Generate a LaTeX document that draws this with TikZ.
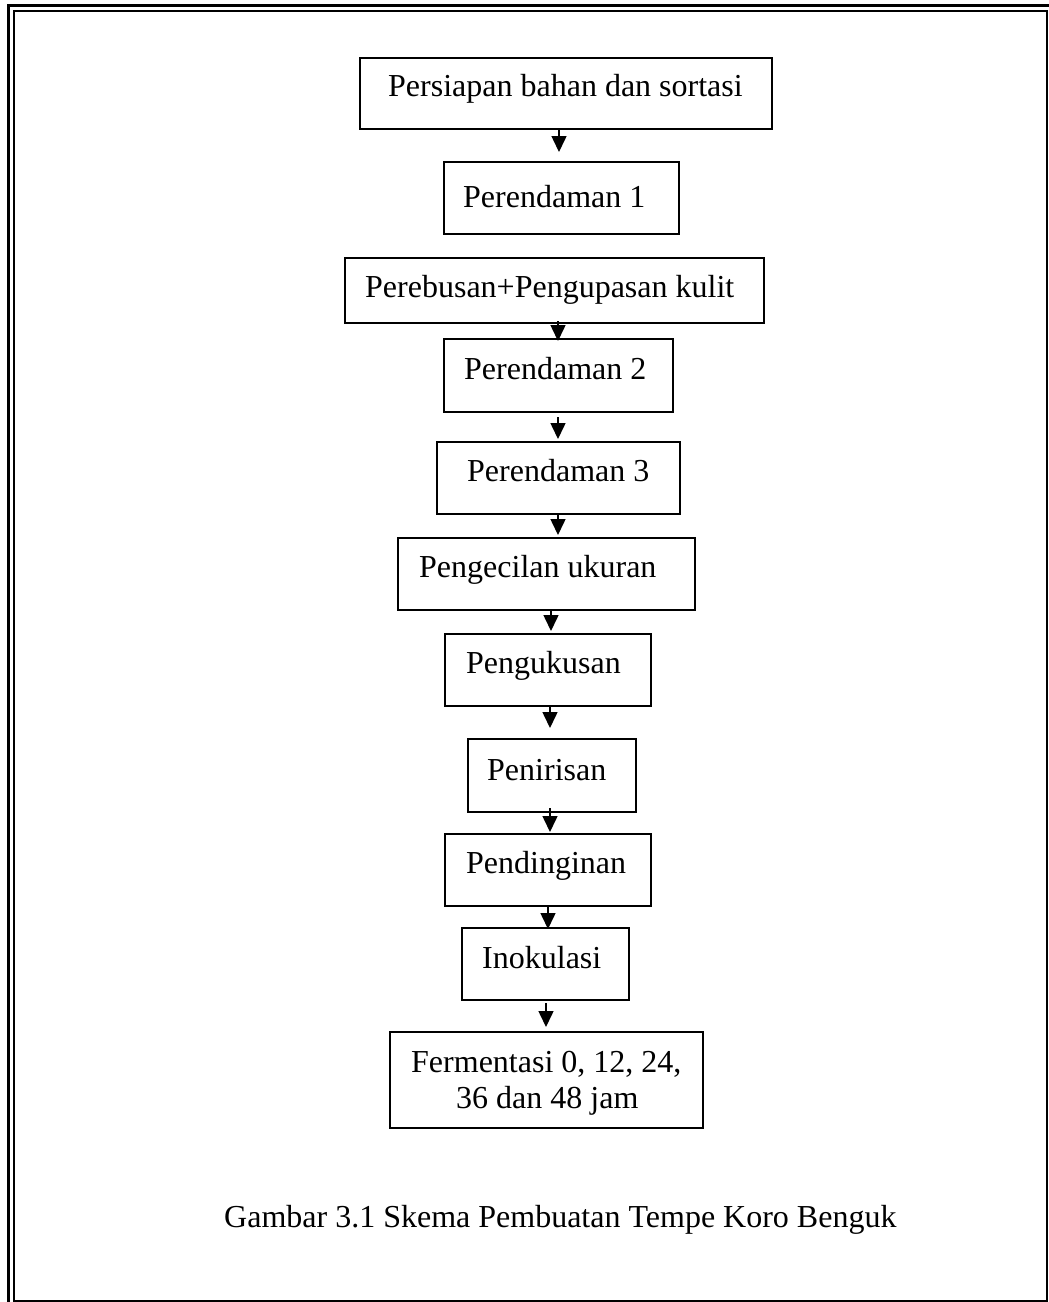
\documentclass[tikz,border=0pt]{standalone}
\usepackage{fontspec}
\setmainfont{Liberation Serif}
\usetikzlibrary{arrows.meta}
\begin{document}
\begin{tikzpicture}[x=1pt,y=-1pt,
  stepbox/.style={draw, line width=1.6pt, inner sep=0pt, anchor=north west},
  txt/.style={anchor=base west, inner sep=0pt, font=\fontsize{32}{36}\selectfont},
  arr/.style={line width=1.5pt, -{Triangle[length=16pt,width=15pt]}}]
\useasboundingbox (0,0) rectangle (1049,1302);
% page border
\draw[line width=3pt] (8.5,1302) -- (8.5,5.3) -- (1049,5.3);
\draw[line width=2pt] (14,11.3) -- (1047,11.3) -- (1047,1300.5) -- (14,1300.5) -- cycle;
% boxes
\node[stepbox, minimum width=412pt, minimum height=71pt] (b1) at (359,57) {};
\node[stepbox, minimum width=235pt, minimum height=72pt] (b2) at (443,161) {};
\node[stepbox, minimum width=419pt, minimum height=65pt] (b3) at (344,257) {};
\node[stepbox, minimum width=229pt, minimum height=73pt] (b4) at (443,338) {};
\node[stepbox, minimum width=243pt, minimum height=72pt] (b5) at (436,441) {};
\node[stepbox, minimum width=297pt, minimum height=72pt] (b6) at (397,537) {};
\node[stepbox, minimum width=206pt, minimum height=72pt] (b7) at (444,633) {};
\node[stepbox, minimum width=168pt, minimum height=73pt] (b8) at (467,738) {};
\node[stepbox, minimum width=206pt, minimum height=72pt] (b9) at (444,833) {};
\node[stepbox, minimum width=167pt, minimum height=72pt] (b10) at (461,927) {};
\node[stepbox, minimum width=313pt, minimum height=96pt] (b11) at (389,1031) {};
% texts
\node[txt] (t1) at (388,96) {Persiapan bahan dan sortasi};
\node[txt] (t2) at (463,207) {Perendaman 1};
\node[txt] (t3) at (365,297) {Perebusan+Pengupasan kulit};
\node[txt] (t4) at (464,379) {Perendaman 2};
\node[txt] (t5) at (467,481) {Perendaman 3};
\node[txt] (t6) at (419,577) {Pengecilan ukuran};
\node[txt] (t7) at (466,673) {Pengukusan};
\node[txt] (t8) at (487,780) {Penirisan};
\node[txt] (t9) at (466,873) {Pendinginan};
\node[txt] (t10) at (482,968) {Inokulasi};
\node[txt] (t11a) at (411,1072) {Fermentasi 0, 12, 24,};
\node[txt] (t11b) at (456,1108) {36 dan 48 jam};
\node[txt] (cap) at (224,1227) {Gambar 3.1 Skema Pembuatan Tempe Koro Benguk};
% arrow end points
\coordinate (a1s) at (559,128);  \coordinate (a1e) at (559,152);
\coordinate (a3s) at (558,321);  \coordinate (a3e) at (558,341);
\coordinate (a4s) at (558,417);  \coordinate (a4e) at (558,439);
\coordinate (a5s) at (558,513);  \coordinate (a5e) at (558,535);
\coordinate (a6s) at (551,609);  \coordinate (a6e) at (551,631);
\coordinate (a7s) at (550,705);  \coordinate (a7e) at (550,728);
\coordinate (a8s) at (550,808);  \coordinate (a8e) at (550,832);
\coordinate (a9s) at (548,905);  \coordinate (a9e) at (548,929);
\coordinate (a10s) at (546,1003); \coordinate (a10e) at (546,1027);
\draw[arr] (a1s) -- (a1e);
\draw[arr] (a3s) -- (a3e);
\draw[arr] (a4s) -- (a4e);
\draw[arr] (a5s) -- (a5e);
\draw[arr] (a6s) -- (a6e);
\draw[arr] (a7s) -- (a7e);
\draw[arr] (a8s) -- (a8e);
\draw[arr] (a9s) -- (a9e);
\draw[arr] (a10s) -- (a10e);
\end{tikzpicture}
\end{document}
